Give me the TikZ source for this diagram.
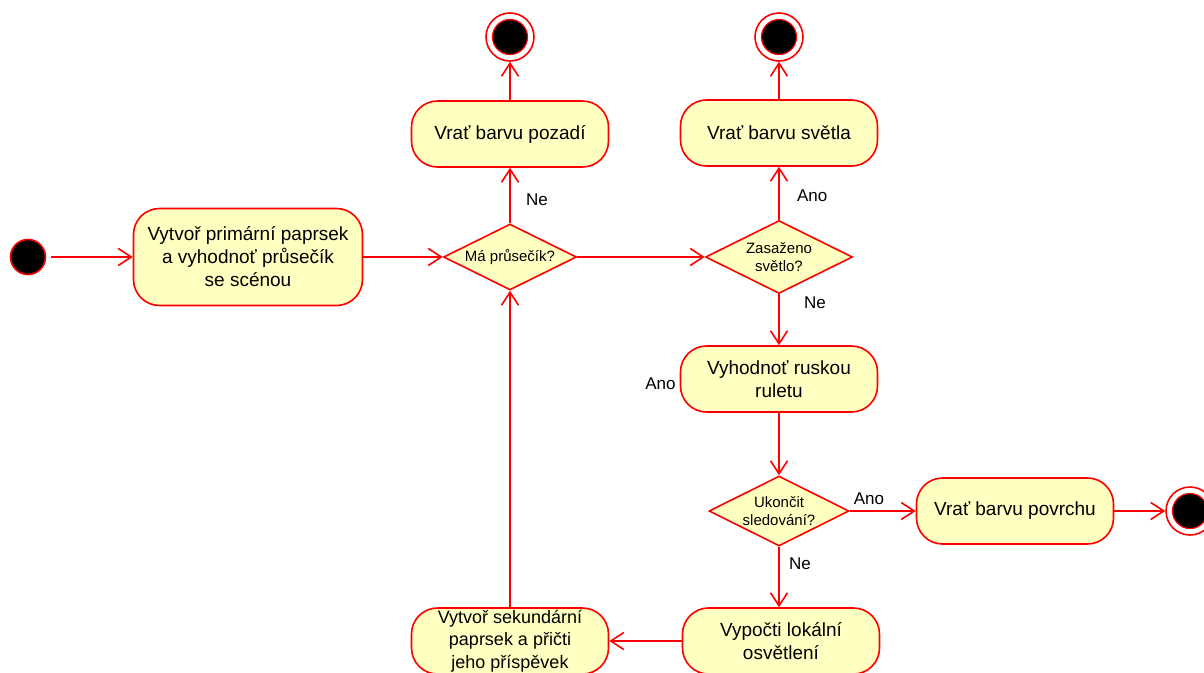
\documentclass[tikz,border=0pt]{standalone}
\usepackage{fontspec}
\setmainfont{Liberation Sans}
\usepackage{xcolor}
\usepackage{tikz}
\usetikzlibrary{arrows.meta,positioning,shapes.geometric}
\definecolor{umlred}{RGB}{255,0,0}
\definecolor{umlfill}{RGB}{255,255,194}

\begin{document}
\begin{tikzpicture}[
  x=1pt, y=-1pt, >={Straight Barb[length=13pt,width=17pt]}, line width=1.6pt,
  flow/.style={->, draw=umlred},
  action/.style={draw=umlred, fill=umlfill, rounded corners=26pt, align=center, inner sep=3pt, minimum width=197pt, minimum height=66pt, font=\fontsize{19}{23}\selectfont},
  decision/.style={diamond, draw=umlred, fill=umlfill, aspect=2, inner sep=0pt, align=center, font=\fontsize{15}{18}\selectfont},
  initial/.style={circle, draw=umlred, fill=black, minimum size=35pt, inner sep=0pt},
  final/.style={circle, draw=umlred, fill=white, minimum size=48pt, inner sep=0pt,
    path picture={\draw[umlred, fill=black, line width=1.2pt] (path picture bounding box.center) circle[radius=17.5pt];}},
  lbl/.style={font=\fontsize{17}{20}\selectfont},
]
\clip (0,0) rectangle (1204,672);

\node[initial] (start) at (28,257) {};
\node[action, minimum width=229pt, minimum height=97pt] (prim) at (248,257) {Vytvoř primární paprsek\\ a vyhodnoť průsečík\\ se scénou};
\node[decision, minimum width=133pt, minimum height=66pt] (hit) at (510,257) {Má průsečík?};
\node[action] (bg) at (510,134) {Vrať barvu pozadí};
\node[final] (endbg) at (510,37) {};

\node[decision, minimum width=147pt, minimum height=73pt] (lit) at (779,257) {Zasaženo\\ světlo?};
\node[action] (light) at (779,133) {Vrať barvu světla};
\node[final] (endlight) at (779,37) {};

\node[action] (rr) at (779,379) {Vyhodnoť ruskou\\ ruletu};
\node[lbl, left=0pt of rr, yshift=-5pt] (rrano) {Ano};
\node[decision, minimum width=140pt, minimum height=70pt] (stop) at (779,511) {Ukončit\\ sledování?};
\node[action] (surf) at (1015,511) {Vrať barvu povrchu};
\node[final] (endsurf) at (1190,511) {};

\node[action] (local) at (781,641) {Vypočti lokální\\ osvětlení};
\node[action, inner sep=1pt, font=\fontsize{18}{22.5}\selectfont] (second) at (510,641) {Vytvoř sekundární\\ paprsek a přičti\\ jeho příspěvek};

\draw[flow, shorten <=5pt] (start) -- (prim);
\draw[flow] (prim) -- (hit);
\draw[flow] (hit) -- node[lbl, right=12pt, pos=0.43] (hitne) {Ne} (bg);
\draw[flow] (bg) -- (endbg);
\draw[flow] (hit) -- (lit);
\draw[flow] (lit) -- node[lbl, right=14pt, pos=0.46] (litano) {Ano} (light);
\draw[flow] (light) -- (endlight);
\draw[flow] (lit) -- node[lbl, right=21pt, pos=0.17] (litne) {Ne} (rr);
\draw[flow] (rr) -- (stop);
\draw[flow] (stop) -- node[lbl, above=2pt, pos=0.29] (stopano) {Ano} (surf);
\draw[flow] (surf) -- (endsurf);
\draw[flow] (stop.south) -- node[lbl, right=6pt, pos=0.28] (stopne) {Ne} (stop.south |- local.north);
\draw[flow] (local) -- (second);
\draw[flow] (second) -- (hit);
\end{tikzpicture}
\end{document}
